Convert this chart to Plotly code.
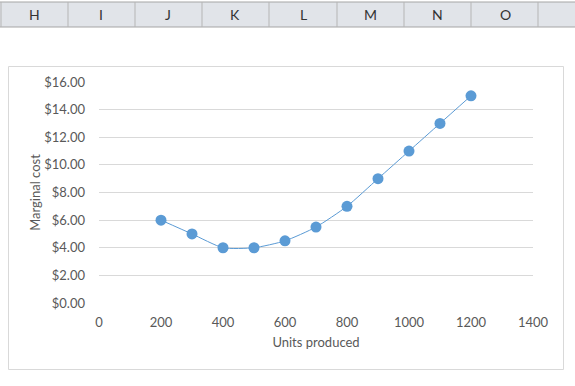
import plotly.graph_objects as go

units = [200, 300, 400, 500, 600, 700, 800, 900, 1000, 1100, 1200]
marginal_cost = [6, 5, 4, 4, 4.5, 5.5, 7, 9, 11, 13, 15]
col_labels = ["H", "I", "J", "K", "L", "M", "N", "O"]
x_ticks = [0, 200, 400, 600, 800, 1000, 1200, 1400]
y_ticks = [0, 2, 4, 6, 8, 10, 12, 14, 16]

W, H = 575, 386
L, R, T, B = 99, 533, 82, 303

def fx(px):
    return (px - L) / (R - L)

def fy(py):
    return (B - py) / (B - T)

FONT = "Lato, Open Sans, sans-serif"
GRAY = "#595959"

fig = go.Figure()
fig.add_trace(go.Scatter(
    x=units, y=marginal_cost, mode="lines+markers",
    line=dict(color="#5B9BD5", width=1, shape="spline", smoothing=0.6),
    marker=dict(color="#5B9BD5", size=11, line=dict(width=0)),
    showlegend=False, hoverinfo="x+y",
))

shapes = []
# spreadsheet column header
shapes.append(dict(type="rect", xref="paper", yref="paper", x0=fx(0), x1=fx(575), y0=fy(27), y1=fy(2),
                   fillcolor="#E1E4E9", line=dict(width=0), layer="below"))
shapes.append(dict(type="line", xref="paper", yref="paper", x0=fx(0), x1=fx(575), y0=fy(2), y1=fy(2),
                   line=dict(color="#A5A5A5", width=1)))
shapes.append(dict(type="line", xref="paper", yref="paper", x0=fx(0), x1=fx(575), y0=fy(27), y1=fy(27),
                   line=dict(color="#A5A5A5", width=1)))
seps = [1, 68, 135, 202, 269, 337, 404, 471, 538]
for s in seps:
    shapes.append(dict(type="line", xref="paper", yref="paper", x0=fx(s), x1=fx(s), y0=fy(27), y1=fy(2),
                       line=dict(color="#B5B5B5", width=1)))
# chart border
shapes.append(dict(type="rect", xref="paper", yref="paper", x0=fx(8.5), x1=fx(563.5), y0=fy(369.5), y1=fy(66.5),
                   fillcolor="rgba(0,0,0,0)", line=dict(color="#D9D9D9", width=1)))

annotations = []
centers = [34, 101, 168, 235, 303, 370, 437, 505]
for lab, c in zip(col_labels, centers):
    annotations.append(dict(text=lab, xref="paper", yref="paper", x=fx(c), y=fy(15), showarrow=False,
                            xanchor="center", yanchor="middle",
                            font=dict(family=FONT, size=14, color="#333333")))

fig.update_layout(
    width=W, height=H,
    margin=dict(l=L, r=W - R, t=T, b=H - B, pad=0),
    paper_bgcolor="white", plot_bgcolor="white",
    shapes=shapes, annotations=annotations,
    xaxis=dict(range=[0, 1400], tickvals=x_ticks, ticktext=[str(v) for v in x_ticks],
               showgrid=False, zeroline=False, showline=False, ticks="",
               tickfont=dict(family=FONT, size=13, color=GRAY), ticklabelstandoff=10,
               title=dict(text="Units produced", font=dict(family=FONT, size=13, color=GRAY), standoff=8)),
    yaxis=dict(range=[0, 16], tickvals=y_ticks, ticktext=["$%.2f" % v for v in y_ticks],
               showgrid=True, gridcolor="#D9D9D9", gridwidth=1, zeroline=False, showline=False, ticks="",
               tickfont=dict(family=FONT, size=13, color=GRAY), ticklabelstandoff=13,
               title=dict(text="Marginal cost", font=dict(family=FONT, size=13, color=GRAY), standoff=0)),
)

fig.write_html("out.html", config={"displayModeBar": False},
               post_script="document.body.style.margin='0';document.body.style.padding='0';")
